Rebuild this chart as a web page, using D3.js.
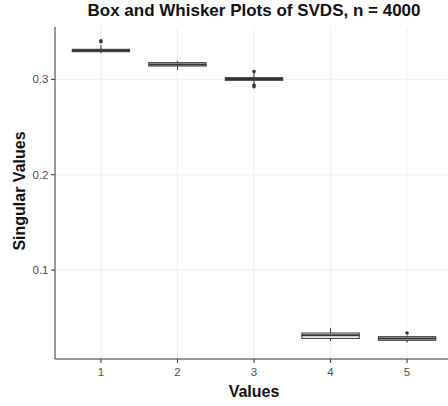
<!DOCTYPE html>
<meta charset="utf-8">
<style>
  body { margin: 0; background: #fff; }
  text { font-family: Arial, "Liberation Sans", sans-serif; }
</style>
<script src="https://d3js.org/d3.v7.min.js"></script>
<div id="chart"></div>
<script>
  // values
  var categories = ["1", "2", "3", "4", "5"];
  var lowWhisker = [0.3273, 0.3098, 0.2950, 0.0256, 0.0240];
  var q1 = [0.3290, 0.3140, 0.2990, 0.0284, 0.0264];
  var median = [0.3302, 0.3157, 0.3003, 0.0317, 0.0282];
  var q3 = [0.3315, 0.3175, 0.3018, 0.0340, 0.0302];
  var highWhisker = [0.3360, 0.3195, 0.3070, 0.0392, 0.0316];
  var outliers = [[0.3395, 0.3405], [], [0.3082, 0.2922, 0.2940], [], [0.0340]];
  var yTicks = [0.1, 0.2, 0.3];

  var width = 448, height = 406;
  // panel edges (right edge runs past the picture, as in the reference)
  var pLeft = 55, pRight = 453, pTop = 27, pBottom = 359;

  var svg = d3.select("#chart").append("svg")
    .attr("width", width)
    .attr("height", height);

  // discrete axis like ggplot: 0.6 units of expansion each side
  var x = d3.scalePoint()
    .domain(categories)
    .range([pLeft, pRight])
    .padding(0.6);
  var step = x.step();

  var y = d3.scaleLinear()
    .domain([0.0068, 0.3549])
    .range([pBottom, pTop]);

  // grid
  svg.append("g").selectAll("line")
    .data(yTicks)
    .enter().append("line")
      .attr("x1", pLeft).attr("x2", pRight)
      .attr("y1", function(d) { return y(d); })
      .attr("y2", function(d) { return y(d); })
      .attr("stroke", "#ebebeb").attr("stroke-width", 0.8);

  svg.append("g").selectAll("line")
    .data(categories)
    .enter().append("line")
      .attr("x1", function(d) { return x(d); })
      .attr("x2", function(d) { return x(d); })
      .attr("y1", pTop).attr("y2", pBottom)
      .attr("stroke", "#ebebeb").attr("stroke-width", 0.8);

  // boxes
  var boxW = 0.75 * step;
  var g = svg.append("g").selectAll("g")
    .data(categories)
    .enter().append("g");

  g.append("line")
    .attr("x1", function(d) { return x(d); })
    .attr("x2", function(d) { return x(d); })
    .attr("y1", function(d, i) { return y(highWhisker[i]); })
    .attr("y2", function(d, i) { return y(lowWhisker[i]); })
    .attr("stroke", "#333").attr("stroke-width", 1);

  g.append("rect")
    .attr("x", function(d) { return x(d) - boxW / 2; })
    .attr("width", boxW)
    .attr("y", function(d, i) { return y(q3[i]); })
    .attr("height", function(d, i) { return y(q1[i]) - y(q3[i]); })
    .attr("fill", "#fff")
    .attr("stroke", "#333").attr("stroke-width", 1);

  g.append("line")
    .attr("x1", function(d) { return x(d) - boxW / 2; })
    .attr("x2", function(d) { return x(d) + boxW / 2; })
    .attr("y1", function(d, i) { return y(median[i]); })
    .attr("y2", function(d, i) { return y(median[i]); })
    .attr("stroke", "#333").attr("stroke-width", 2);

  g.each(function(d, i) {
    d3.select(this).selectAll("circle")
      .data(outliers[i])
      .enter().append("circle")
        .attr("cx", x(d))
        .attr("cy", function(v) { return y(v); })
        .attr("r", 1.8)
        .attr("fill", "#333");
  });

  // axes
  svg.append("line")
    .attr("x1", pLeft).attr("x2", pLeft).attr("y1", pTop).attr("y2", pBottom)
    .attr("stroke", "#333").attr("stroke-width", 1);
  svg.append("line")
    .attr("x1", pLeft).attr("x2", pRight).attr("y1", pBottom).attr("y2", pBottom)
    .attr("stroke", "#333").attr("stroke-width", 1);

  svg.append("g").selectAll("line")
    .data(yTicks)
    .enter().append("line")
      .attr("x1", pLeft - 4).attr("x2", pLeft)
      .attr("y1", function(d) { return y(d); })
      .attr("y2", function(d) { return y(d); })
      .attr("stroke", "#333");

  svg.append("g").selectAll("text")
    .data(yTicks)
    .enter().append("text")
      .attr("x", pLeft - 6.5)
      .attr("y", function(d) { return y(d); })
      .attr("dy", "0.35em")
      .attr("text-anchor", "end")
      .attr("font-size", 11.5)
      .attr("fill", "#4d4d4d")
      .text(function(d) { return d3.format(".1f")(d); });

  svg.append("g").selectAll("line")
    .data(categories)
    .enter().append("line")
      .attr("x1", function(d) { return x(d); })
      .attr("x2", function(d) { return x(d); })
      .attr("y1", pBottom).attr("y2", pBottom + 4)
      .attr("stroke", "#333");

  svg.append("g").selectAll("text")
    .data(categories)
    .enter().append("text")
      .attr("x", function(d) { return x(d); })
      .attr("y", 376)
      .attr("text-anchor", "middle")
      .attr("font-size", 11.5)
      .attr("fill", "#4d4d4d")
      .text(function(d) { return d; });

  // titles
  svg.append("text")
    .attr("x", 254).attr("y", 15.5)
    .attr("text-anchor", "middle")
    .attr("font-size", 17)
    .attr("font-weight", "bold")
    .attr("fill", "#111")
    .text("Box and Whisker Plots of SVDS, n = 4000");

  svg.append("text")
    .attr("x", 254).attr("y", 397)
    .attr("text-anchor", "middle")
    .attr("font-size", 16)
    .attr("font-weight", "bold")
    .attr("fill", "#111")
    .text("Values");

  svg.append("text")
    .attr("transform", "translate(25,191) rotate(-90)")
    .attr("text-anchor", "middle")
    .attr("font-size", 16)
    .attr("font-weight", "bold")
    .attr("fill", "#111")
    .text("Singular Values");
</script>
